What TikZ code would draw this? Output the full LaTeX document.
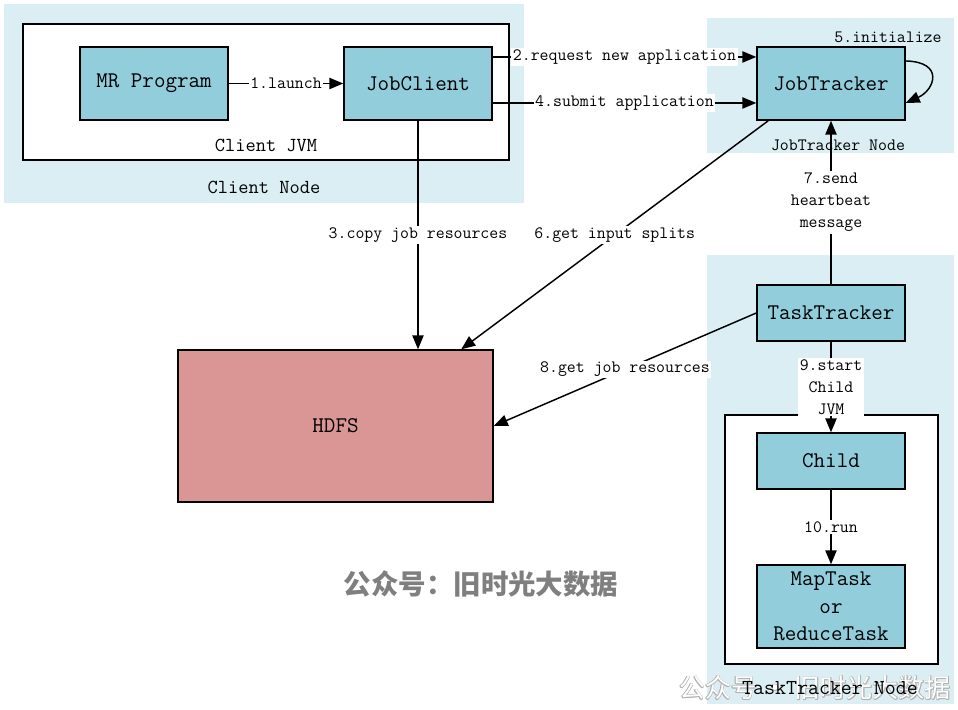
\documentclass[tikz,border=0pt]{standalone}
\usepackage{fontspec}
\newfontfamily\cjk{Noto Sans CJK SC}
\usetikzlibrary{arrows.meta}
\definecolor{nodeblue}{HTML}{DAEEF3}
\definecolor{boxblue}{HTML}{92CDDC}
\definecolor{hdfsred}{HTML}{D99694}
\definecolor{markgray}{HTML}{7F7F7F}
\begin{document}
\begin{tikzpicture}[x=0.75pt,y=-0.75pt,
    box/.style={draw,line width=1.1pt,fill=boxblue,inner sep=0pt,align=center,
      font=\ttfamily\fontsize{16.8}{20.6}\selectfont},
    lab/.style={fill=white,inner sep=1.2pt,align=center,
      font=\ttfamily\fontsize{13}{16.5}\selectfont},
    area/.style={font=\ttfamily\fontsize{13}{16}\selectfont},
    clientlab/.style={font=\ttfamily\fontsize{14.9}{17}\selectfont},
    flow/.style={line width=1.1pt,-{Triangle[length=10.5pt,width=8.5pt]}},
    wmark/.style={font=\cjk\bfseries\fontsize{20.6}{24}\selectfont,text=markgray},
    wmarksmall/.style={font=\cjk\fontsize{19.5}{24}\selectfont}]
  \useasboundingbox (0,0) rectangle (958,710);
  % node areas
  \fill[nodeblue] (4,4) rectangle (524,203);
  \fill[nodeblue] (707,18) rectangle (954,153);
  \fill[nodeblue] (707,255) rectangle (954,704);
  \draw[fill=white,line width=0.9pt] (23,24) rectangle (509,160);
  \draw[fill=white,line width=0.9pt] (725,415) rectangle (938,664);
  \node[clientlab] (jvm) at (266,145) {Client JVM};
  \node[clientlab] (cnode) at (264,187) {Client Node};
  \node[area] (jtnode) at (838,145) {JobTracker Node};
  \node[area] (init) at (888,37) {5.initialize};
  % boxes
  \node[box,minimum width=111pt,minimum height=54.75pt] (mr) at (154,83.5) {MR Program};
  \node[box,minimum width=111pt,minimum height=54.75pt] (jc) at (418,83.5) {JobClient};
  \node[box,minimum width=111pt,minimum height=54.75pt] (jt) at (831,83.5) {JobTracker};
  \node[box,minimum width=111pt,minimum height=42pt] (tt) at (831,313) {TaskTracker};
  \node[box,minimum width=111pt,minimum height=42pt] (child) at (831,461) {Child};
  \node[box,minimum width=111pt,minimum height=62.25pt] (task) at (831,606.5) {MapTask\\or\\ReduceTask};
  \node[box,fill=hdfsred,minimum width=236.25pt,minimum height=114pt] (hdfs) at (335.5,426) {HDFS};
  % connectors
  \draw[flow] (mr) -- node[lab] (l1) {1.launch} (jc);
  \draw[flow] ([yshift=19.9pt]jc.east) -- node[lab] (l2) {2.request new application} ([yshift=19.9pt]jt.west);
  \draw[flow] ([yshift=-14.6pt]jc.east) -- node[lab] (l4) {4.submit application} ([yshift=-14.6pt]jt.west);
  \draw[flow] ([yshift=16.9pt]jt.east) .. controls +(39,1) and +(29,-13) .. ([yshift=-14.6pt]jt.east);
  \draw[flow] (jc) -- node[lab] (l3) {3.copy job resources} (jc |- hdfs.north);
  \draw[flow] ([xshift=9pt]jt.south west) -- node[lab] (l6) {6.get input splits} ([xshift=213pt]hdfs.north west);
  \draw[flow] (tt) -- node[lab] (l7) {7.send\\heartbeat\\message} (jt);
  \draw[flow] (tt.west) -- node[lab] (l8) {8.get job resources} (hdfs.east);
  \draw[flow] (tt) -- node[lab] (l9) {9.start\\Child\\JVM} (child);
  \draw[flow] (child) -- node[lab] (l10) {10.run} (task);
  % watermarks
  \node[wmark] (mark) at (481,584) {公众号：旧时光大数据};
  \foreach \a in {0,45,...,315}
    \node[wmarksmall,text=gray!60] (mark\a) at ([shift={(\a:0.6pt)}]815,688) {公众号 · 旧时光大数据};
  \node[wmarksmall,text=white] (markb) at (815,688) {公众号 · 旧时光大数据};
  \node[area,font=\ttfamily\fontsize{16}{18}\selectfont] (ttnode) at (830,688) {TaskTracker Node};
\end{tikzpicture}
\end{document}
